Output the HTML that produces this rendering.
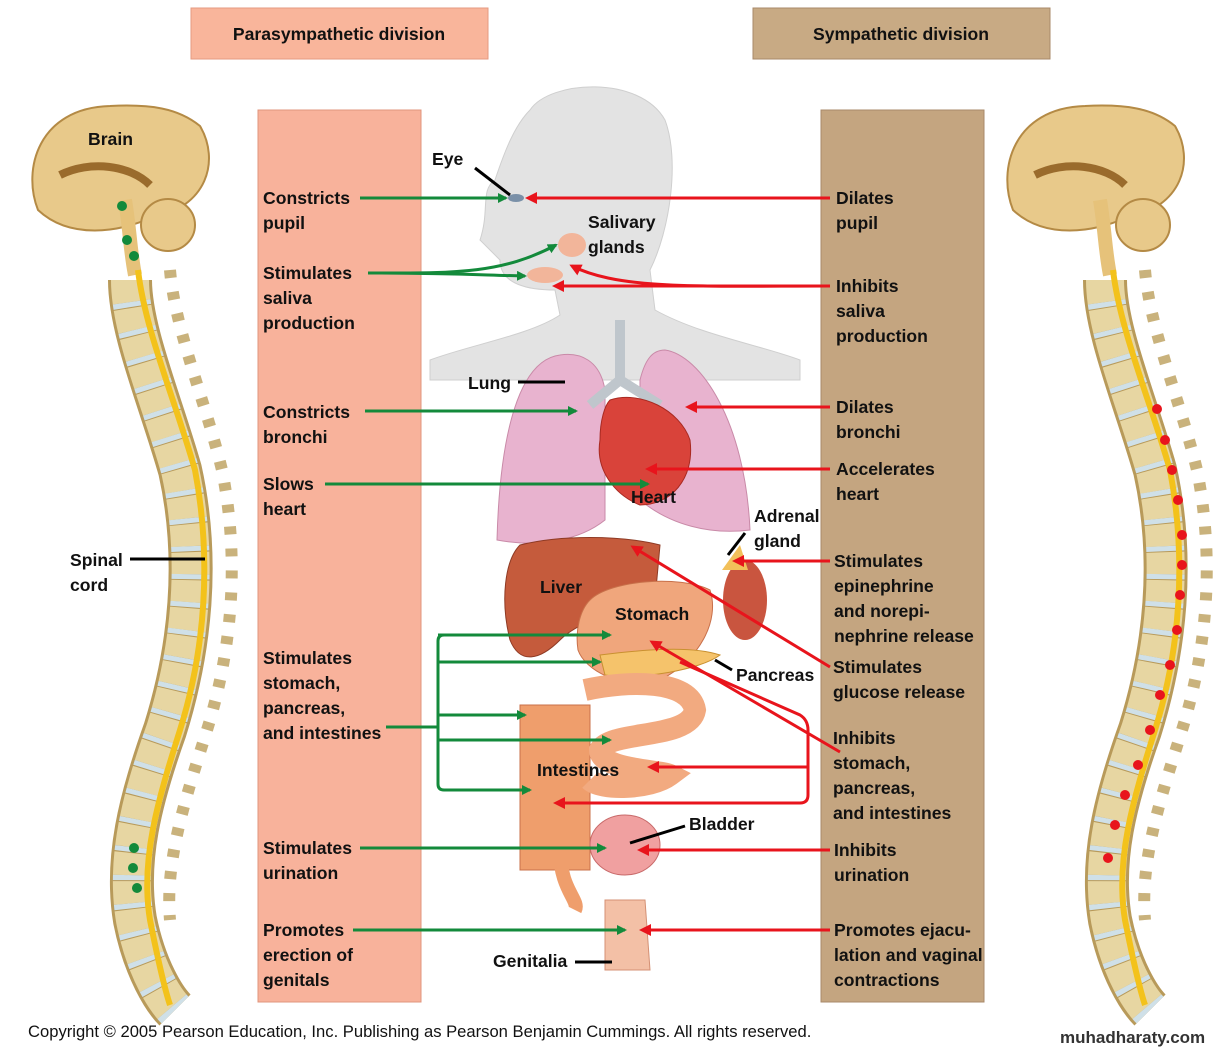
<!DOCTYPE html>
<html><head><meta charset="utf-8"><style>
html,body{margin:0;padding:0;background:#fff;}
svg{display:block;}
text{font-family:"Liberation Sans",sans-serif;font-weight:bold;font-size:17.6px;fill:#111;}
.ft{font-weight:normal;font-size:16.6px;}
</style></head><body>
<svg width="1225" height="1050" viewBox="0 0 1225 1050" xmlns="http://www.w3.org/2000/svg">
<defs>
<marker id="ag" markerWidth="10" markerHeight="10" refX="8" refY="5" orient="auto" markerUnits="userSpaceOnUse"><path d="M0,0 L10,5 L0,10 Z" fill="#138a3b"/></marker>
<marker id="ar" markerWidth="12" markerHeight="12" refX="9" refY="6" orient="auto" markerUnits="userSpaceOnUse"><path d="M0,0 L12,6 L0,12 Z" fill="#e8141c"/></marker>
<g id="spine">
 <path d="M110,106 C38,108 22,170 38,210 C70,240 120,232 150,218 C208,208 220,160 200,126 C178,108 150,104 110,106 Z" fill="#e8c98a" stroke="#b48a45" stroke-width="2"/>
 <path d="M60,175 C90,160 130,165 150,185" stroke="#9a6b2c" stroke-width="8" fill="none"/>
 <ellipse cx="168" cy="225" rx="27" ry="26" fill="#e8c98a" stroke="#b48a45" stroke-width="2"/>
 <path d="M125,200 C130,230 130,250 135,275" stroke="#e6c27a" stroke-width="14" fill="none"/>
 <path d="M130,280 C130,330 160,400 180,470 C200,560 190,650 165,730 C140,800 125,860 135,920 C145,970 165,1000 175,1010" stroke="#b89a5a" stroke-width="44" fill="none"/>
 <path d="M130,280 C130,330 160,400 180,470 C200,560 190,650 165,730 C140,800 125,860 135,920 C145,970 165,1000 175,1010" stroke="#e7d6a2" stroke-width="38" stroke-dasharray="22 6" fill="none"/>
 <path d="M130,280 C130,330 160,400 180,470 C200,560 190,650 165,730 C140,800 125,860 135,920 C145,970 165,1000 175,1010" stroke="#cfe0e8" stroke-width="38" stroke-dasharray="5 23" stroke-dashoffset="-22" fill="none"/>
 <path d="M170,270 C175,330 205,400 222,470 C240,560 232,650 207,730 C185,800 165,860 170,920" stroke="#c9b27c" stroke-width="12" stroke-dasharray="8 14" fill="none"/>
 <path d="M138,270 C145,330 175,400 195,470 C212,560 205,650 180,730 C158,800 140,860 150,920 C158,960 165,990 170,1005" stroke="#f3c21b" stroke-width="6" fill="none"/>
</g>
</defs>
<rect x="191" y="8" width="297" height="51" fill="#f9b59b" stroke="#e59a80"/>
<text x="339" y="40" text-anchor="middle">Parasympathetic division</text>
<rect x="753" y="8" width="297" height="51" fill="#c8aa84" stroke="#a8896a"/>
<text x="901" y="40" text-anchor="middle">Sympathetic division</text>
<rect x="258" y="110" width="163" height="892" fill="#f8b29b" stroke="#e0957c"/>
<rect x="821" y="110" width="163" height="892" fill="#c4a580" stroke="#a8896a"/>
<use href="#spine"/>
<g transform="translate(975,0)"><use href="#spine"/></g>
<g fill="#138a3b"><circle cx="122" cy="206" r="5"/><circle cx="127" cy="240" r="5"/><circle cx="134" cy="256" r="5"/><circle cx="134" cy="848" r="5"/><circle cx="133" cy="868" r="5"/><circle cx="137" cy="888" r="5"/></g>
<g fill="#e8141c"><circle cx="1157" cy="409" r="5"/><circle cx="1165" cy="440" r="5"/><circle cx="1172" cy="470" r="5"/><circle cx="1178" cy="500" r="5"/><circle cx="1182" cy="535" r="5"/><circle cx="1182" cy="565" r="5"/><circle cx="1180" cy="595" r="5"/><circle cx="1177" cy="630" r="5"/><circle cx="1170" cy="665" r="5"/><circle cx="1160" cy="695" r="5"/><circle cx="1150" cy="730" r="5"/><circle cx="1138" cy="765" r="5"/><circle cx="1125" cy="795" r="5"/><circle cx="1115" cy="825" r="5"/><circle cx="1108" cy="858" r="5"/></g>
<text x="88" y="145">Brain</text>
<text x="70" y="566">Spinal</text><text x="70" y="591">cord</text>
<line x1="130" y1="559" x2="205" y2="559" stroke="#000" stroke-width="3"/>
<path d="M530,110 C550,80 640,75 665,120 C680,160 670,230 650,270 L655,310 C700,335 760,345 800,360 L800,380 L430,380 L430,360 C470,345 530,335 560,315 L555,290 C530,290 500,285 500,260 L480,240 C490,210 480,190 495,180 C505,150 515,125 530,110 Z" fill="#e3e3e3" stroke="#cfcfcf"/>
<path d="M560,355 C520,360 500,430 497,540 C540,548 580,540 605,520 L605,390 C600,360 580,352 560,355 Z" fill="#e8b3cf" stroke="#c98aa8"/>
<path d="M665,350 C700,355 745,420 750,530 C710,535 670,525 640,500 L640,380 C645,360 652,350 665,350 Z" fill="#e8b3cf" stroke="#c98aa8"/>
<path d="M620,320 L620,380 L590,405 M620,380 L660,405" stroke="#bfc6cc" stroke-width="10" fill="none"/>
<path d="M610,400 C640,390 680,410 690,440 C695,480 670,505 640,505 C615,495 595,470 600,440 C600,420 605,405 610,400 Z" fill="#d9433a" stroke="#a82a22"/>
<path d="M520,545 C560,535 620,535 660,545 L655,600 C620,610 580,620 560,640 C540,660 520,665 510,640 C500,600 505,560 520,545 Z" fill="#c55b3c" stroke="#8e3a24"/>
<ellipse cx="745" cy="600" rx="22" ry="40" fill="#c9553f"/>
<path d="M722,570 L740,545 L748,570 Z" fill="#f2c05a"/>
<path d="M590,600 C610,580 680,575 710,590 C720,620 700,660 660,680 C620,690 585,670 578,650 C575,630 580,610 590,600 Z" fill="#f0a67c" stroke="#c8704a"/>
<path d="M600,655 C640,650 690,645 720,655 C700,670 640,680 605,675 Z" fill="#f5c36b" stroke="#c99030"/>
<path d="M520,705 L590,705 L590,870 L520,870 Z" fill="#ef9e6c" stroke="#c8704a"/>
<path d="M585,690 C630,680 690,680 695,710 C690,740 610,730 600,750 C600,770 660,770 670,775 C650,790 600,790 590,780" stroke="#f2aa80" stroke-width="22" fill="none"/>
<path d="M560,850 C560,890 580,900 575,910" stroke="#ef9e6c" stroke-width="14" fill="none"/>
<ellipse cx="625" cy="845" rx="35" ry="30" fill="#f0a0a0" stroke="#c86a6a"/>
<path d="M605,900 L645,900 L650,970 L605,970 Z" fill="#f3c0a6" stroke="#d49074"/>
<ellipse cx="516" cy="198" rx="8" ry="4" fill="#7a90a8"/>
<ellipse cx="572" cy="245" rx="14" ry="12" fill="#f2b59a"/>
<ellipse cx="545" cy="275" rx="18" ry="8" fill="#f2b59a"/>
<text x="432" y="165">Eye</text>
<line x1="475" y1="168" x2="510" y2="195" stroke="#000" stroke-width="3"/>
<text x="588" y="228">Salivary</text><text x="588" y="253">glands</text>
<text x="468" y="389">Lung</text>
<line x1="518" y1="382" x2="565" y2="382" stroke="#000" stroke-width="3"/>
<text x="631" y="503">Heart</text>
<text x="754" y="522">Adrenal</text><text x="754" y="547">gland</text>
<line x1="745" y1="533" x2="728" y2="555" stroke="#000" stroke-width="3"/>
<text x="540" y="593">Liver</text>
<text x="615" y="620">Stomach</text>
<text x="736" y="681">Pancreas</text>
<line x1="715" y1="660" x2="732" y2="670" stroke="#000" stroke-width="3"/>
<text x="537" y="776">Intestines</text>
<text x="689" y="830">Bladder</text>
<line x1="685" y1="826" x2="630" y2="843" stroke="#000" stroke-width="3"/>
<text x="493" y="967">Genitalia</text>
<line x1="575" y1="962" x2="612" y2="962" stroke="#000" stroke-width="3"/>
<g>
<text x="263" y="204">Constricts</text><text x="263" y="229">pupil</text>
<text x="263" y="279">Stimulates</text><text x="263" y="304">saliva</text><text x="263" y="329">production</text>
<text x="263" y="418">Constricts</text><text x="263" y="443">bronchi</text>
<text x="263" y="490">Slows</text><text x="263" y="515">heart</text>
<text x="263" y="664">Stimulates</text><text x="263" y="689">stomach,</text><text x="263" y="714">pancreas,</text><text x="263" y="739">and intestines</text>
<text x="263" y="854">Stimulates</text><text x="263" y="879">urination</text>
<text x="263" y="936">Promotes</text><text x="263" y="961">erection of</text><text x="263" y="986">genitals</text>
</g>
<g>
<text x="836" y="204">Dilates</text><text x="836" y="229">pupil</text>
<text x="836" y="292">Inhibits</text><text x="836" y="317">saliva</text><text x="836" y="342">production</text>
<text x="836" y="413">Dilates</text><text x="836" y="438">bronchi</text>
<text x="836" y="475">Accelerates</text><text x="836" y="500">heart</text>
<text x="834" y="567">Stimulates</text><text x="834" y="592">epinephrine</text><text x="834" y="617">and norepi-</text><text x="834" y="642">nephrine release</text>
<text x="833" y="673">Stimulates</text><text x="833" y="698">glucose release</text>
<text x="833" y="744">Inhibits</text><text x="833" y="769">stomach,</text><text x="833" y="794">pancreas,</text><text x="833" y="819">and intestines</text>
<text x="834" y="856">Inhibits</text><text x="834" y="881">urination</text>
<text x="834" y="936">Promotes ejacu-</text><text x="834" y="961">lation and vaginal</text><text x="834" y="986">contractions</text>
</g>
<g stroke="#138a3b" stroke-width="3" fill="none">
<line x1="360" y1="198" x2="506" y2="198" marker-end="url(#ag)"/>
<path d="M368,273 C450,273 500,275 556,245" marker-end="url(#ag)"/>
<path d="M368,273 C450,273 480,275 525,276" marker-end="url(#ag)"/>
<line x1="365" y1="411" x2="576" y2="411" marker-end="url(#ag)"/>
<line x1="325" y1="484" x2="648" y2="484" marker-end="url(#ag)"/>
<line x1="386" y1="727" x2="438" y2="727"/>
<path d="M610,635 L444,635 Q438,635 438,641 L438,784 Q438,790 444,790 L530,790" marker-end="url(#ag)"/>
<line x1="438" y1="635" x2="610" y2="635" marker-end="url(#ag)"/>
<line x1="438" y1="662" x2="600" y2="662" marker-end="url(#ag)"/>
<line x1="438" y1="715" x2="525" y2="715" marker-end="url(#ag)"/>
<line x1="438" y1="740" x2="610" y2="740" marker-end="url(#ag)"/>
<line x1="360" y1="848" x2="605" y2="848" marker-end="url(#ag)"/>
<line x1="353" y1="930" x2="625" y2="930" marker-end="url(#ag)"/>
</g>
<g stroke="#e8141c" stroke-width="3" fill="none">
<line x1="830" y1="198" x2="528" y2="198" marker-end="url(#ar)"/>
<path d="M830,286 C700,286 620,290 572,266" marker-end="url(#ar)"/>
<line x1="830" y1="286" x2="555" y2="286" marker-end="url(#ar)"/>
<line x1="830" y1="407" x2="688" y2="407" marker-end="url(#ar)"/>
<line x1="830" y1="469" x2="648" y2="469" marker-end="url(#ar)"/>
<line x1="830" y1="561" x2="735" y2="561" marker-end="url(#ar)"/>
<line x1="830" y1="667" x2="633" y2="547" marker-end="url(#ar)"/>
<line x1="840" y1="752" x2="652" y2="642" marker-end="url(#ar)"/>
<path d="M680,662 L800,715 Q808,720 808,730 L808,795 Q808,803 800,803 L556,803" marker-end="url(#ar)"/>
<line x1="808" y1="767" x2="650" y2="767" marker-end="url(#ar)"/>
<line x1="830" y1="850" x2="640" y2="850" marker-end="url(#ar)"/>
<line x1="830" y1="930" x2="642" y2="930" marker-end="url(#ar)"/>
</g>
<text class="ft" x="28" y="1037">Copyright ©  2005 Pearson Education, Inc. Publishing as Pearson Benjamin Cummings. All rights reserved.</text>
<text x="1060" y="1043" style="font-size:17px;fill:#333">muhadharaty.com</text>
</svg>
</body></html>
